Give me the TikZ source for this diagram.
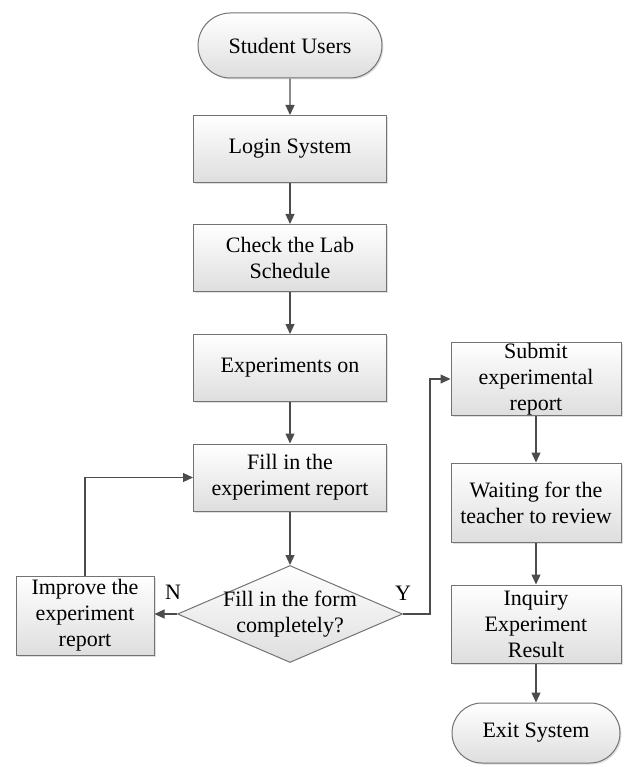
\documentclass[tikz,border=0pt]{standalone}
\usepackage{fontspec}
\setmainfont{Liberation Serif}
\usetikzlibrary{positioning, shapes.geometric, shapes.misc, arrows.meta, shadows}

\begin{document}
\begin{tikzpicture}[
      x=1pt, y=-1pt,
      font=\fontsize{22}{26}\selectfont,
      box/.style={rectangle, draw=black!55, line width=1pt, top color=white, bottom color=black!13, drop shadow={opacity=0.25, shadow xshift=1.5pt, shadow yshift=-1.5pt}, minimum width=193pt, minimum height=67pt, inner sep=1pt, align=center},
      rbox/.style={box, minimum width=170pt},
      term/.style={rounded rectangle, draw=black!55, line width=1pt, top color=white, bottom color=black!13, drop shadow={opacity=0.25, shadow xshift=1.5pt, shadow yshift=-1.5pt}, inner sep=1pt},
      decision/.style={diamond, draw=black!55, line width=1pt, top color=white, bottom color=black!13, minimum width=225pt, minimum height=97pt, inner sep=0pt},
      arrow/.style={-{Triangle[length=10pt,width=9pt]}, draw=black!70, line width=1.2pt}
    ]
      \useasboundingbox (0,0) rectangle (629,767);

      % Left column
      \node[term, minimum width=186pt, minimum height=65pt] (start) at (290,45.5) {Student Users};
      \node[box] (login) at (290,149) {Login System};
      \node[box] (schedule) at (290,258) {Check the Lab\\Schedule};
      \node[box] (experiment) at (290,368) {Experiments on};
      \node[box] (fill) at (290,477.5) {Fill in the\\experiment report};
      \node[decision] (complete) at (290,614) {};
      \node[align=center] (completetext) at (complete) {Fill in the form\\completely?};
      \node[box, minimum width=138pt, minimum height=79pt] (improve) at (85,615.5) {Improve the\\experiment\\report};

      % Right column
      \node[rbox] (submit) at (536,379) {Submit\\experimental\\report};
      \node[rbox, minimum height=79pt] (waiting) at (536,502.5) {Waiting for the\\teacher to review};
      \node[rbox, minimum height=78pt] (inquiry) at (536,624) {Inquiry\\Experiment\\Result};
      \node[term, minimum width=170pt, minimum height=60pt] (exit) at (536,733) {Exit System};

      % Labels
      \node (nlabel) at (173,592) {N};
      \node (ylabel) at (403,593) {Y};

      % Arrows
      \draw[arrow] (start) -- (login);
      \draw[arrow] (login) -- (schedule);
      \draw[arrow] (schedule) -- (experiment);
      \draw[arrow] (experiment) -- (fill);
      \draw[arrow] (fill) -- (complete);
      \draw[arrow] (complete.west) -- (complete.west -| improve.east);
      \draw[arrow] (improve.north) |- (fill.west);
      \draw[arrow] (complete.east) -- ++(27,0) |- (submit.west);
      \draw[arrow] (submit) -- (waiting);
      \draw[arrow] (waiting) -- (inquiry);
      \draw[arrow] (inquiry) -- (exit);
    \end{tikzpicture}
\end{document}
